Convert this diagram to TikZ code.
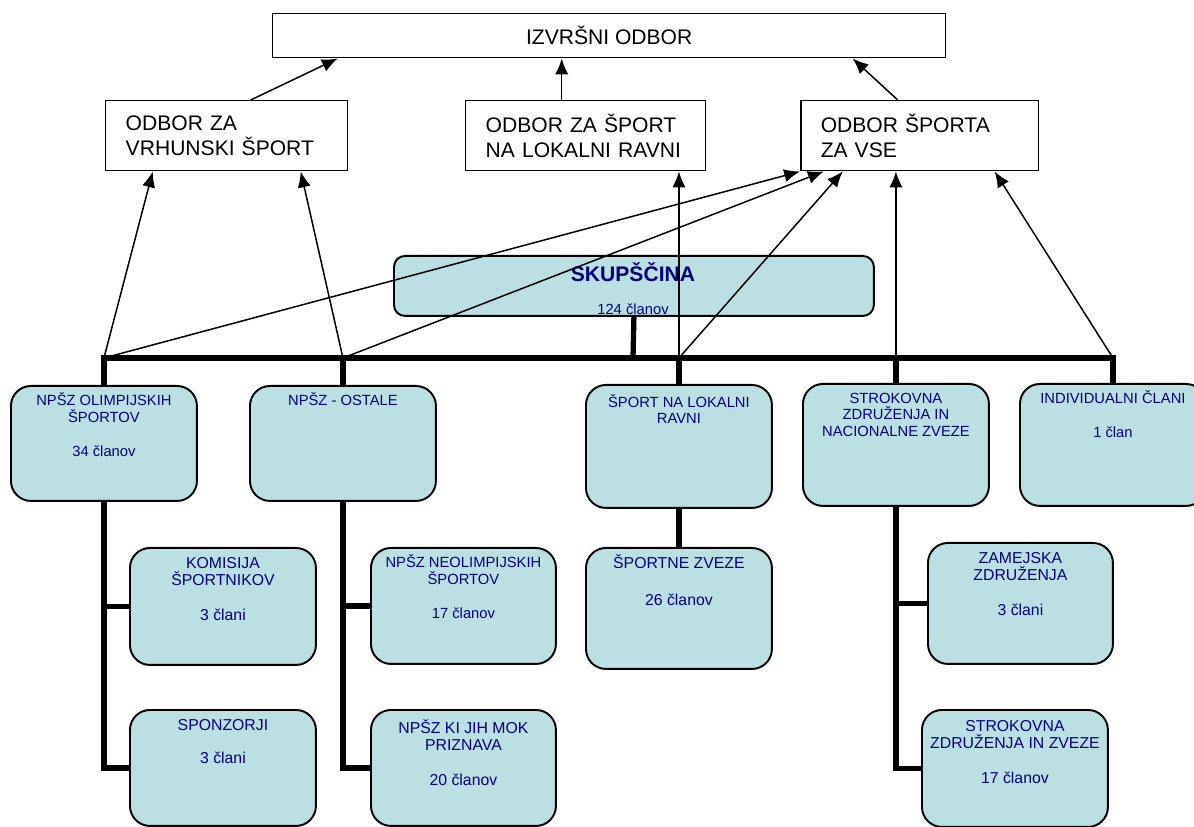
\documentclass[tikz,border=0pt]{standalone}
\usepackage{fontspec}
\setmainfont{Liberation Sans}
\usetikzlibrary{arrows.meta,positioning}
\definecolor{clanfill}{RGB}{186,224,227}
\definecolor{clantext}{RGB}{0,0,128}
\tikzset{
	odbor/.style={draw, line width=0.85pt, inner ysep=0pt, inner xsep=0.4cm, minimum height=1.4cm, align=left, font=\fontsize{12}{14.2}\selectfont},
	clan/.style={draw, line width=1.1pt, fill=clanfill, rounded corners=0.4cm, inner sep=0pt, anchor=north west},
	ctext/.style={text=clantext, align=center, inner sep=0pt, anchor=north, font=\fontsize{8.4}{9.4}\selectfont},
	cbig/.style={ctext, font=\fontsize{9}{9.9}\selectfont},
	arr/.style={-{Latex[length=9pt,width=7.5pt]}, line width=0.85pt},
	tree/.style={line width=3pt}
}
\begin{document}
\begin{tikzpicture}[x=0.02cm, y=-0.02cm]
	\useasboundingbox (0,0) rectangle (1194,827);
	\node[odbor, minimum width=13.46cm, minimum height=0.88cm, anchor=north west] (izvrsni) at (272,13) {IZVRŠNI ODBOR};
	\node[odbor, minimum width=4.84cm, text width=4.04cm, anchor=north west] (vrhunski) at (105,100) {ODBOR ZA\\VRHUNSKI ŠPORT};
	\node[odbor, minimum width=4.8cm, text width=4.0cm, anchor=north west] (lokalna) at (465,100) {ODBOR ZA ŠPORT\\NA LOKALNI RAVNI};
	\node[odbor, minimum width=4.76cm, text width=3.96cm, anchor=north west] (vse) at (800,100) {ODBOR ŠPORTA\\ZA VSE};
	\node[clan, rounded corners=0.22cm, minimum width=9.6cm, minimum height=1.2cm] (skupscina) at (393,255) {};
	\node[text=clantext, font=\bfseries\fontsize{12}{14}\selectfont] (skupT) at (633,272) {SKUPŠČINA};
	\node[ctext, anchor=center] (skupN) at (633,309) {124 članov};
	\node[clan, minimum width=3.72cm, minimum height=2.3cm] (olimp) at (10,385) {};
	\node[clan, minimum width=3.72cm, minimum height=2.3cm] (ostale) at (249,385) {};
	\node[clan, minimum width=3.72cm, minimum height=2.46cm] (lokalni) at (585,384) {};
	\node[clan, minimum width=3.72cm, minimum height=2.44cm] (strok) at (802,383) {};
	\node[clan, minimum width=3.72cm, minimum height=2.44cm] (indiv) at (1019,383) {};
	\node[clan, minimum width=3.72cm, minimum height=2.34cm] (komisija) at (129,547) {};
	\node[clan, minimum width=3.72cm, minimum height=2.32cm] (sponzorji) at (129,709) {};
	\node[clan, minimum width=3.7cm, minimum height=2.32cm] (neolimp) at (370,547) {};
	\node[clan, minimum width=3.7cm, minimum height=2.32cm] (mok) at (370,709) {};
	\node[clan, minimum width=3.72cm, minimum height=2.42cm] (zveze) at (585,547) {};
	\node[clan, minimum width=3.7cm, minimum height=2.42cm] (zamejska) at (927,542) {};
	\node[clan, minimum width=3.72cm, minimum height=2.34cm] (strzveze) at (921,709) {};
	\node[ctext] (olimpT) at ([yshift=-0.15cm]olimp.north) {NPŠZ OLIMPIJSKIH\\ŠPORTOV\\[10pt]34 članov};
	\node[ctext] (ostaleT) at ([yshift=-0.15cm]ostale.north) {NPŠZ - OSTALE};
	\node[ctext] (lokalniT) at ([yshift=-0.2cm]lokalni.north) {ŠPORT NA LOKALNI\\RAVNI};
	\node[ctext] (strokT) at ([yshift=-0.14cm]strok.north) {\vphantom{Š}STROKOVNA\\ZDRUŽENJA IN\\NACIONALNE ZVEZE};
	\node[ctext] (indivT) at ([yshift=-0.15cm]indiv.north) {INDIVIDUALNI ČLANI\\[10pt]1 član};
	\node[cbig] (komisijaT) at ([yshift=-0.14cm]komisija.north) {\vphantom{Š}KOMISIJA\\ŠPORTNIKOV\\[10pt]3 člani};
	\node[cbig] (sponzorjiT) at ([yshift=-0.14cm]sponzorji.north) {\vphantom{Š}SPONZORJI\\[9pt]3 člani};
	\node[ctext] (neolimpT) at ([yshift=-0.15cm]neolimp.north) {NPŠZ NEOLIMPIJSKIH\\ŠPORTOV\\[10pt]17 članov};
	\node[cbig] (mokT) at ([yshift=-0.2cm]mok.north) {NPŠZ KI JIH MOK\\PRIZNAVA\\[10pt]20 članov};
	\node[cbig] (zvezeT) at ([yshift=-0.15cm]zveze.north) {ŠPORTNE ZVEZE\\[11pt]26 članov};
	\node[cbig] (zamejskaT) at ([yshift=-0.14cm]zamejska.north) {\vphantom{Š}ZAMEJSKA\\ZDRUŽENJA\\[10pt]3 člani};
	\node[cbig] (strzvezeT) at ([yshift=-0.16cm]strzveze.north) {\vphantom{Š}STROKOVNA\\ZDRUŽENJA IN ZVEZE\\[10pt]17 članov};
	\coordinate (bus) at (633,358);
	\coordinate (b1) at (olimp.north |- bus);
	\coordinate (b2) at (ostale.north |- bus);
	\coordinate (b3) at (lokalni.north |- bus);
	\coordinate (b4) at (strok.north |- bus);
	\coordinate (b5) at (indiv.north |- bus);
	\coordinate (lokUp) at ([xshift=-0.48cm]lokalna.north);
	\draw[tree] (skupscina.south) -- (bus);
	\draw[tree] (olimp.north) |- (bus) -| (indiv.north);
	\draw[tree] (ostale.north) -- (b2);
	\draw[tree] (lokalni.north) -- (b3);
	\draw[tree] (strok.north) -- (b4);
	\draw[tree] (olimp.south) |- (komisija.west);
	\draw[tree] (olimp.south) |- (sponzorji.west);
	\draw[tree] (ostale.south) |- (neolimp.west);
	\draw[tree] (ostale.south) |- (mok.west);
	\draw[tree] (lokalni.south) -- (zveze.north);
	\draw[tree] (strok.south) |- (zamejska.west);
	\draw[tree] (strok.south) |- (strzveze.west);
	\draw[arr] ([xshift=0.48cm]vrhunski.north) -- ([xshift=-5.43cm]izvrsni.south);
	\draw[arr] (lokUp) -- (lokUp |- izvrsni.south);
	\draw[arr] ([xshift=-0.44cm]vse.north) -- ([xshift=4.87cm]izvrsni.south);
	\draw[arr] (b1) -- ([xshift=-1.48cm]vrhunski.south);
	\draw[arr] (b2) -- ([xshift=1.48cm]vrhunski.south);
	\draw[arr] (b1) -- (vse.south west);
	\draw[arr] (b2) -- ([xshift=-1.92cm]vse.south);
	\draw[arr] (b3) -- (b3 |- lokalna.south);
	\draw[arr] (b3) -- ([xshift=-1.54cm]vse.south);
	\draw[arr] (b4) -- (b4 |- vse.south);
	\draw[arr] (b5) -- ([xshift=1.5cm]vse.south);
\end{tikzpicture}
\end{document}
